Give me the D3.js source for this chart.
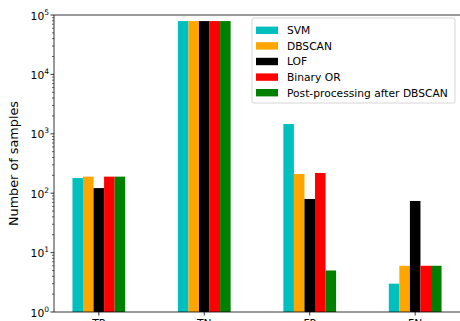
<!DOCTYPE html>
<html><head><meta charset="utf-8">
<script src="https://cdn.jsdelivr.net/npm/d3@7"></script>
<style>body{margin:0;background:#fff}svg{display:block;font-family:"DejaVu Sans",sans-serif}</style>
</head><body><svg id="c" width="460" height="321"></svg>
<script>
const categories = ["TP","TN","FP","FN"];
const seriesNames = ["SVM","DBSCAN","LOF","Binary OR","Post-processing after DBSCAN"];
const colors = ["#00bfbf","#ffa500","#000000","#ff0000","#008000"];
const SVM = [180, 79000, 1460, 3];
const DBSCAN = [190, 79000, 210, 6];
const LOF = [122, 79000, 80, 74];
const BinaryOR = [190, 79000, 219, 6];
const PostDBSCAN = [190, 79000, 5, 6];
const values = [SVM, DBSCAN, LOF, BinaryOR, PostDBSCAN];
const yTicks = [1, 10, 100, 1000, 10000, 100000];

const svg = d3.select("#c");
const L = 54, R = 460, T = 15, B = 312;
const x = d3.scaleLinear().domain([-0.425, 3.425]).range([L, R]);
const y = d3.scaleLog().domain([1, 1e5]).range([B, T]);
const bw = 0.1;

values.forEach((vals, s) => {
  svg.append("g").selectAll("rect").data(vals).join("rect")
    .attr("x", (d, i) => x(i + (s - 2) * bw - bw / 2))
    .attr("width", x(bw) - x(0))
    .attr("y", d => y(d))
    .attr("height", d => B - y(d))
    .attr("fill", colors[s]);
});

// y axis
const minor = [];
for (let e = 0; e < 5; e++) for (let m = 2; m <= 9; m++) minor.push(m * Math.pow(10, e));
const gy = svg.append("g");
gy.selectAll("line.mi").data(minor).join("line")
  .attr("x1", L - 2).attr("x2", L).attr("y1", d => y(d)).attr("y2", d => y(d))
  .attr("stroke", "#000").attr("stroke-width", 0.6);
gy.selectAll("line.ma").data(yTicks).join("line")
  .attr("x1", L - 3.5).attr("x2", L).attr("y1", d => y(d)).attr("y2", d => y(d))
  .attr("stroke", "#000").attr("stroke-width", 0.8);
const tl = gy.selectAll("text").data(yTicks).join("text")
  .attr("x", L - 5).attr("y", d => y(d) + 4.5).attr("text-anchor", "end")
  .attr("font-size", 10.7).attr("fill", "#000");
tl.append("tspan").text("10");
tl.append("tspan").attr("font-size", 7.5).attr("dy", -5).text(d => Math.round(Math.log10(d)));

svg.append("text").attr("transform", `translate(18,${(T + B) / 2}) rotate(-90)`)
  .attr("text-anchor", "middle").attr("font-size", 12.8).text("Number of samples");

// x axis
const gx = svg.append("g");
gx.selectAll("line").data(categories).join("line")
  .attr("x1", (d, i) => x(i)).attr("x2", (d, i) => x(i))
  .attr("y1", B).attr("y2", B + 3.5).attr("stroke", "#000").attr("stroke-width", 0.8);
gx.selectAll("text").data(categories).join("text")
  .attr("x", (d, i) => x(i)).attr("y", B + 15).attr("text-anchor", "middle")
  .attr("font-size", 10.7).text(d => d);

// spines
svg.append("line").attr("x1", L).attr("x2", L).attr("y1", T).attr("y2", B).attr("stroke", "#000").attr("stroke-width", 0.8);
svg.append("line").attr("x1", L).attr("x2", R).attr("y1", B).attr("y2", B).attr("stroke", "#000").attr("stroke-width", 0.8);
svg.append("line").attr("x1", L).attr("x2", R).attr("y1", T).attr("y2", T).attr("stroke", "#000").attr("stroke-width", 0.8);

// legend
const lg = svg.append("g");
lg.append("rect").attr("x", 252).attr("y", 18).attr("width", 203).attr("height", 85)
  .attr("rx", 2).attr("fill", "#fff").attr("fill-opacity", 0.8).attr("stroke", "#cccccc").attr("stroke-width", 0.8);
seriesNames.forEach((n, i) => {
  const yy = 30.3 + i * 15.6;
  lg.append("rect").attr("x", 256).attr("y", yy - 3.7).attr("width", 22).attr("height", 7.4).attr("fill", colors[i]);
  lg.append("text").attr("x", 287).attr("y", yy + 3.9).attr("font-size", 10.7).text(n);
});
</script></body></html>
